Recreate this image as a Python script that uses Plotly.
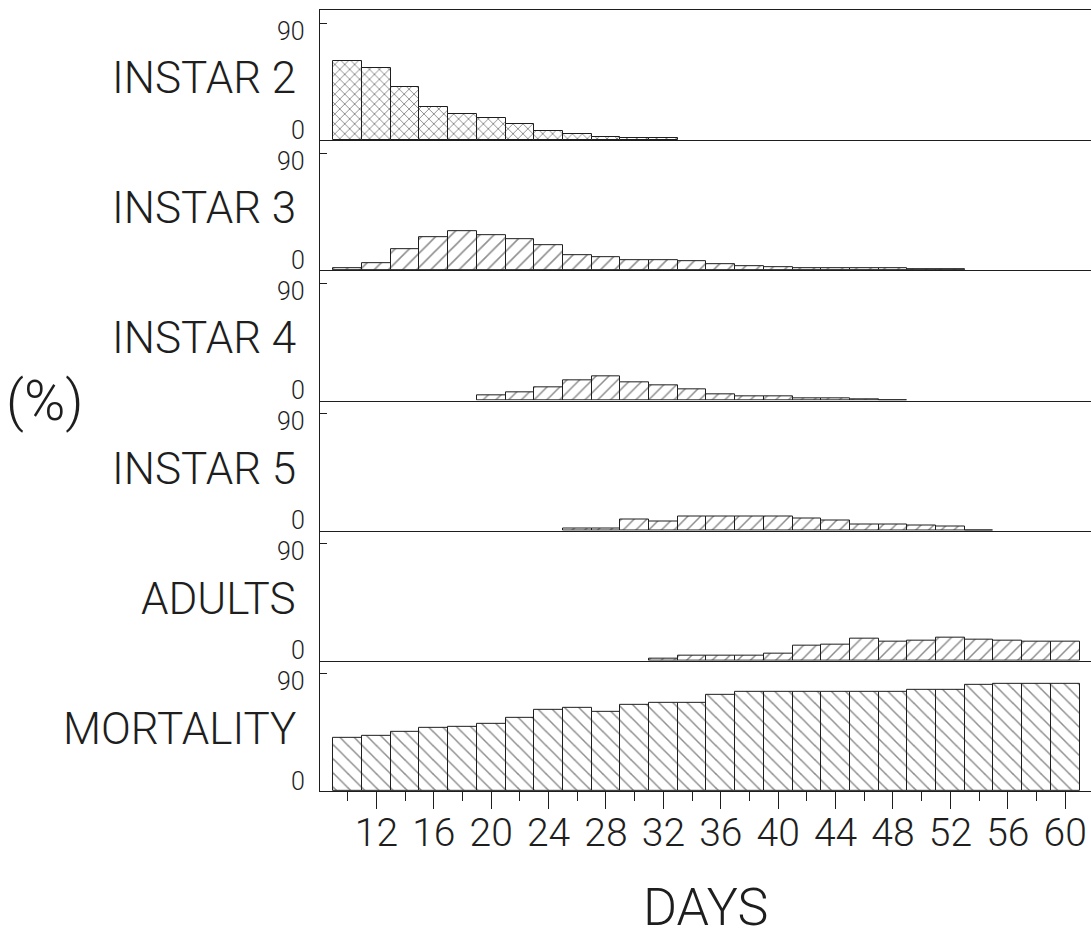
import plotly.graph_objects as go
from plotly.subplots import make_subplots

# Sampling days (bar centres, each bar covers a 2-day interval)
days_all = [10, 12, 14, 16, 18, 20, 22, 24, 26, 28, 30, 32, 34, 36, 38, 40,
            42, 44, 46, 48, 50, 52, 54, 56, 58, 60]

# Percentage of individuals in each stage
instar2_days = [10, 12, 14, 16, 18, 20, 22, 24, 26, 28, 30, 32]
instar2 = [60.8, 55.1, 41.0, 25.4, 20.0, 16.7, 12.3, 7.4, 4.6, 2.5, 2.0, 2.0]

instar3_days = [10, 12, 14, 16, 18, 20, 22, 24, 26, 28, 30, 32, 34, 36, 38,
                40, 42, 44, 46, 48, 50, 52]
instar3 = [2.0, 5.4, 16.4, 25.1, 30.0, 26.7, 24.1, 19.0, 12.0, 10.0, 8.0, 7.7,
           7.2, 5.1, 3.0, 2.5, 2.0, 2.0, 2.0, 1.5, 1.0, 1.0]

instar4_days = [20, 22, 24, 26, 28, 30, 32, 34, 36, 38, 40, 42, 44, 46, 48]
instar4 = [3.6, 6.2, 10.3, 15.4, 18.5, 14.1, 11.5, 8.2, 4.6, 3.3, 3.3, 2.0,
           2.0, 1.0, 0.5]

instar5_days = [26, 28, 30, 32, 34, 36, 38, 40, 42, 44, 46, 48, 50, 52, 54]
instar5 = [2.0, 2.0, 8.5, 7.2, 10.8, 10.8, 10.8, 10.8, 9.0, 7.7, 5.1, 5.1,
           3.8, 3.0, 0.5]

adults_days = [32, 34, 36, 38, 40, 42, 44, 46, 48, 50, 52, 54, 56, 58, 60]
adults = [1.3, 3.8, 3.8, 3.8, 5.5, 11.5, 12.8, 16.7, 15.0, 15.8, 17.5, 16.2,
          15.4, 15.0, 15.0]

mortality_days = days_all
mortality = [40.9, 42.6, 45.5, 48.5, 49.5, 51.6, 56.2, 62.5, 63.8, 60.8, 66.4,
             67.7, 67.9, 74.1, 76.0, 76.0, 76.0, 76.0, 76.0, 76.0, 78.0, 78.0,
             81.4, 82.4, 82.4, 82.4]

panel_names = ["INSTAR 2", "INSTAR 3", "INSTAR 4", "INSTAR 5", "ADULTS", "MORTALITY"]
panel_data = [(instar2_days, instar2), (instar3_days, instar3),
              (instar4_days, instar4), (instar5_days, instar5),
              (adults_days, adults), (mortality_days, mortality)]
# (shape, tile size, solidity) of the hatch fill for each panel
patterns = [("x", 7, 0.26), ("/", 10, 0.16), ("/", 9, 0.17),
            ("/", 9, 0.17), ("/", 9, 0.17), ("\\", 10, 0.15)]

major_ticks = [12, 16, 20, 24, 28, 32, 36, 40, 44, 48, 52, 56, 60]
minor_ticks = [10, 14, 18, 22, 26, 30, 34, 38, 42, 46, 50, 54, 58]
y_ticks = [0, 90]

INK = "#1e1e1e"
FONT = "Roboto"

W, H = 1091, 937
ML, MR, MT, MB = 320, 0, 10, 146
plot_w = W - ML - MR
plot_h = H - MT - MB

fig = make_subplots(rows=6, cols=1, shared_xaxes=True, vertical_spacing=0)

for i, ((xd, yd), (shape, size, solid)) in enumerate(zip(panel_data, patterns)):
    fig.add_trace(
        go.Bar(
            x=xd, y=yd, width=2,
            marker=dict(
                color="white",
                line=dict(color=INK, width=1),
                pattern=dict(shape=shape, size=size, solidity=solid,
                             fgcolor=INK, bgcolor="white", fillmode="overlay"),
            ),
            showlegend=False, hoverinfo="x+y",
        ),
        row=i + 1, col=1,
    )

n = len(panel_names)
annotations = []
for i in range(n):
    top = 1 - i / n
    bottom = 1 - (i + 1) / n
    yname = "yaxis" if i == 0 else f"yaxis{i + 1}"
    xname = "xaxis" if i == 0 else f"xaxis{i + 1}"
    yref = "y" if i == 0 else f"y{i + 1}"
    fig.layout[yname].update(
        domain=[bottom, top], range=[0, 100], showgrid=False, zeroline=False,
        showline=True, linecolor=INK, linewidth=1,
        tickvals=y_ticks, ticks="inside", ticklen=7, tickcolor=INK,
        showticklabels=False,
    )
    last = i == n - 1
    fig.layout[xname].update(
        range=[8.07, 61.8], showgrid=False, zeroline=False,
        showline=True, linecolor=INK, linewidth=1,
        mirror=(i == 0),
        ticks="outside" if last else "",
        tickvals=major_ticks if last else [],
        ticktext=[str(v) for v in major_ticks] if last else [],
        ticklen=17, tickcolor=INK, tickwidth=1,
        showticklabels=last,
        ticklabelstandoff=-10 if last else 0,
        tickfont=dict(family=FONT, size=39, color=INK, weight=300),
    )
    if last:
        fig.layout[xname].update(
            minor=dict(tickvals=minor_ticks, ticks="outside", ticklen=9,
                       tickcolor=INK, tickwidth=1))
    # stage label
    annotations.append(dict(
        text=panel_names[i], xref="paper", x=-22 / plot_w, xanchor="right",
        yref=f"{yref} domain", y=0.5, yanchor="middle", yshift=-3,
        showarrow=False, font=dict(family=FONT, size=44, color=INK, weight=300),
    ))
    # y tick labels, nudged apart so neighbouring panels' 0 and 90 don't collide
    for v, shift in ((90, -8), (0, 10)):
        annotations.append(dict(
            text=str(v), xref="paper", x=-13 / plot_w, xanchor="right",
            yref=yref, y=v, yanchor="middle", yshift=shift,
            showarrow=False, font=dict(family=FONT, size=25, color=INK, weight=300),
        ))

annotations.append(dict(
    text="(%)", xref="paper", x=(45 - ML) / plot_w, xanchor="center",
    yref="paper", y=0.5, yanchor="middle", showarrow=False,
    font=dict(family=FONT, size=56, color=INK, weight=300),
))
annotations.append(dict(
    text="DAYS", xref="paper", x=0.5, xanchor="center",
    yref="paper", y=-(907 - (H - MB)) / plot_h, yanchor="middle",
    showarrow=False, font=dict(family=FONT, size=52, color=INK, weight=300),
))

fig.update_layout(
    width=W, height=H, margin=dict(l=ML, r=MR, t=MT, b=MB),
    paper_bgcolor="white", plot_bgcolor="white",
    bargap=0, barmode="overlay",
    annotations=annotations,
)

fig.write_html("out.html")
